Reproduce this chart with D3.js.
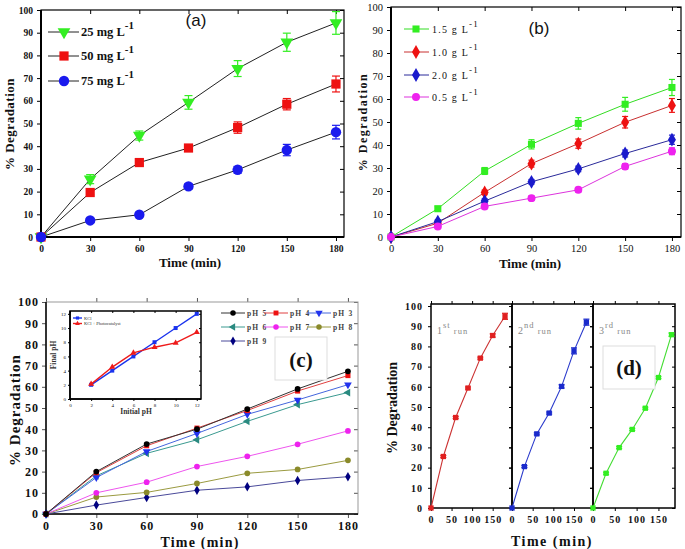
<!DOCTYPE html>
<html>
<head>
<meta charset="utf-8"/>
<title>Degradation panels</title>
<script src="https://cdn.jsdelivr.net/npm/d3@7"></script>
<style>
  body {margin:0; background:#fff;}
  svg {display:block;}
</style>
</head>
<body>
<svg id="fig" width="685" height="549"></svg>
<script>
// ---- data ----
const times = [0, 30, 60, 90, 120, 150, 180];
const xTicks = [0, 30, 60, 90, 120, 150, 180];
const yTicks = [0, 10, 20, 30, 40, 50, 60, 70, 80, 90, 100];

// (a) initial concentration
const aNames = ["25 mg L", "50 mg L", "75 mg L"];
const a25 = [0, 25.5, 44.7, 59.3, 74.2, 85.8, 94.3];
const a50 = [0, 19.6, 32.8, 39.2, 48.2, 58.5, 67.4];
const a75 = [0, 7.3, 9.8, 22.3, 29.6, 38.3, 46.2];
const a25err = [0, 2, 2, 3, 3.5, 4, 5];
const a50err = [0, 1, 1, 1.2, 2.5, 2.5, 3.5];
const a75err = [0, 1, 1, 1.2, 1.5, 2.5, 3];

// (b) catalyst dose
const bNames = ["1.5 g L", "1.0 g L", "2.0 g L", "0.5 g L"];
const b15 = [0, 12.3, 28.7, 40.3, 49.4, 57.7, 65];
const b10 = [0, 6, 19.4, 31.9, 40.6, 49.9, 57.2];
const b20 = [0, 6.7, 15.6, 24, 29.6, 36.3, 42.3];
const b05 = [0, 4.6, 13.3, 16.9, 20.5, 30.7, 37.3];
const b15err = [0, 1, 1.5, 2, 2.5, 3, 3.5];
const b10err = [0, 0.8, 1, 1.5, 2, 2.5, 3];
const b20err = [0, 0.8, 1, 1, 1.2, 1.5, 2];
const b05err = [0, 0.8, 1, 1, 1, 1.2, 1.5];

// (c) initial pH
const cNames = ["pH 5", "pH 4", "pH 3", "pH 6", "pH 7", "pH 8", "pH 9"];
const cPH5 = [0, 20, 33, 40, 49.5, 59, 67.3];
const cPH4 = [0, 19.5, 32.2, 40.5, 48.8, 58, 65.3];
const cPH3 = [0, 17.2, 29.5, 38, 47, 53.8, 61];
const cPH6 = [0, 18, 28.6, 35, 43.7, 51.6, 57.3];
const cPH7 = [0, 10, 15, 22.4, 27.2, 32.9, 39.2];
const cPH8 = [0, 8, 10.2, 14.4, 19.2, 21, 25.3];
const cPH9 = [0, 4.2, 7.8, 11.2, 12.8, 15.8, 17.6];

// (c) inset: final pH vs initial pH
const insetNames = ["KCl", "KCl + Photocatalyst"];
const initialPH = [2, 4, 6, 8, 10, 12];
const finalKCl = [2, 4, 6, 8, 10, 12];
const finalKClCat = [2.1, 4.5, 6.5, 7.3, 7.9, 9.4];
const insetTicks = [0, 2, 4, 6, 8, 10, 12];

// (d) reuse runs
const runNames = ["st", "nd", "rd"];
const runNums = ["1", "2", "3"];
const run1 = [0, 25.5, 44.8, 59.4, 74.2, 85.4, 94.9];
const run2 = [0, 20.5, 36.7, 47, 60.2, 77.8, 92];
const run3 = [0, 17.2, 29.9, 38.9, 49.4, 64.6, 85.8];
const run1err = [0, 0.5, 0.5, 0.5, 0.5, 0.8, 1.5];
const run2err = [0, 0.5, 0.5, 0.5, 0.8, 1.5, 1.5];
const run3err = [0, 0.5, 0.5, 0.5, 0.5, 0.5, 0.8];
const dTicks = [0, 50, 100, 150];

const svg = d3.select("#fig");
const SERIF = "'Liberation Serif', 'DejaVu Serif', serif";
const SANS = "'Liberation Sans', Arial, sans-serif";

function sym(shape, size) {
  const t = {tri: d3.symbolTriangle, square: d3.symbolSquare, circle: d3.symbolCircle,
             diamond: d3.symbolDiamond, star: d3.symbolStar}[shape.replace(/-.*/, "")];
  return d3.symbol().type(t).size(size)();
}
function rot(shape) {
  if (shape === "tri-down") return 180;
  if (shape === "tri-left") return -90;
  return 0;
}

// frame + ticks for one panel
function axes(g, x, y, o) {
  const [x0, x1] = x.range(), y0 = y.range()[0], top = o.top;
  const fmt = o.xf || (d => d);
  const gb = g.append("g").attr("transform", `translate(0,${y0})`)
    .call(d3.axisBottom(x).tickValues(o.xt).tickSize(o.tick).tickPadding(o.pad).tickFormat(fmt));
  const gl = g.append("g").attr("transform", `translate(${x0},0)`)
    .call(d3.axisLeft(y).tickValues(o.yt).tickSize(o.tick).tickPadding(o.pad));
  const gt = g.append("g").attr("transform", `translate(0,${top})`)
    .call(d3.axisTop(x).tickValues(o.xt).tickSize(o.topOut ? o.tick : -o.tick).tickFormat(""));
  const gr = g.append("g").attr("transform", `translate(${x1},0)`)
    .call(d3.axisRight(y).tickValues(o.yt).tickSize(-o.tick).tickFormat(""));
  [gb, gl, gt, gr].forEach(a => {
    a.select(".domain").remove();
    a.selectAll("line").attr("stroke", o.color || "#000").attr("stroke-width", 1);
    a.selectAll("text").attr("font-family", o.font || SERIF).attr("font-size", o.fs)
      .attr("font-weight", o.fw || "normal").attr("fill", "#111")
      .attr("letter-spacing", o.ls || 0);
  });
  if (o.noLeftLabels) gl.selectAll("text").remove();
  g.append("rect").attr("x", x0).attr("y", top).attr("width", x1 - x0).attr("height", y0 - top)
    .attr("fill", "none").attr("stroke", o.frameColor || "#000").attr("stroke-width", o.fw2 || 1.2);
  if (o.thick) {
    g.append("line").attr("x1", x0).attr("x2", x1).attr("y1", y0).attr("y2", y0)
      .attr("stroke", "#000").attr("stroke-width", o.thick);
    g.append("line").attr("x1", x0).attr("x2", x0).attr("y1", top).attr("y2", y0)
      .attr("stroke", "#000").attr("stroke-width", o.thick);
  }
}

function series(g, x, y, vals, o) {
  const pts = times.map((t, i) => [t, vals[i]]);
  g.append("path").attr("d", d3.line().x(d => x(d[0])).y(d => y(d[1]))(pts))
    .attr("fill", "none").attr("stroke", o.line).attr("stroke-width", o.lw || 1);
  if (o.err) {
    pts.forEach((p, i) => {
      const e = o.err[i];
      if (!e) return;
      const cx = x(p[0]);
      g.append("line").attr("x1", cx).attr("x2", cx).attr("y1", y(p[1] - e)).attr("y2", y(p[1] + e))
        .attr("stroke", o.color).attr("stroke-width", 1.2);
      [p[1] - e, p[1] + e].forEach(v => g.append("line").attr("x1", cx - o.cap).attr("x2", cx + o.cap)
        .attr("y1", y(v)).attr("y2", y(v)).attr("stroke", o.color).attr("stroke-width", 1.2));
    });
  }
  g.selectAll(null).data(pts).join("path")
    .attr("d", sym(o.shape, o.size))
    .attr("transform", d => `translate(${x(d[0])},${y(d[1])}) rotate(${rot(o.shape)})`)
    .attr("fill", o.color);
}

function text(g, x, y, str, o) {
  const t = g.append("text").attr("x", x).attr("y", y).text(str)
    .attr("font-family", o.font || SERIF).attr("font-size", o.fs).attr("font-weight", o.fw || "normal")
    .attr("fill", o.fill || "#111").attr("text-anchor", o.anchor || "start")
    .attr("letter-spacing", o.ls || 0);
  if (o.rot) t.attr("transform", `rotate(-90,${x},${y})`);
  return t;
}
function sup(t, s, fs, dy) {
  t.append("tspan").attr("dy", -dy).attr("font-size", fs).text(s);
}

// ===== panel (a) =====
{
  const g = svg.append("g");
  const x = d3.scaleLinear().domain([0, 184.9]).range([41, 344]);
  const y = d3.scaleLinear().domain([0, 100]).range([237, 10]);
  axes(g, x, y, {xt: xTicks, yt: yTicks, tick: 4, pad: 4, fs: 9.5, fw: "bold", top: 10, thick: 2});
  const defs = [
    {v: a25, e: a25err, color: "#33ee22", shape: "tri-down", size: 70},
    {v: a50, e: a50err, color: "#ee1111", shape: "square", size: 85},
    {v: a75, e: a75err, color: "#1a1aee", shape: "circle", size: 85}
  ];
  defs.forEach(d => series(g, x, y, d.v, {line: "#222", color: d.color, shape: d.shape, size: d.size, err: d.e, cap: 4}));
  const rowsY = [32, 56, 81];
  defs.forEach((d, i) => {
    g.append("line").attr("x1", 48).attr("x2", 79).attr("y1", rowsY[i]).attr("y2", rowsY[i]).attr("stroke", "#222");
    g.append("path").attr("d", sym(d.shape, d.size))
      .attr("transform", `translate(64,${rowsY[i]}) rotate(${rot(d.shape)})`).attr("fill", d.color);
    const t = text(g, 81, rowsY[i] + 4, aNames[i], {fs: 12.5, fw: "bold"});
    sup(t, "-1", 11, 7);
  });
  text(g, 196, 26, "(a)", {fs: 17, font: SANS, anchor: "middle"});
  text(g, 14, 124, "% Degradation", {fs: 13, fw: "bold", anchor: "middle", rot: true, ls: 0.5});
  text(g, 190, 267, "Time (min)", {fs: 13, fw: "bold", anchor: "middle"});
}

// ===== panel (b) =====
{
  const g = svg.append("g");
  const x = d3.scaleLinear().domain([0, 185.8]).range([391, 681]);
  const y = d3.scaleLinear().domain([0, 100]).range([237, 7]);
  axes(g, x, y, {xt: xTicks, yt: yTicks, tick: 4, pad: 4, fs: 10.5, top: 7, thick: 2});
  const defs = [
    {v: b15, e: b15err, color: "#33ee22", line: "#33dd22", shape: "square", size: 50},
    {v: b10, e: b10err, color: "#ee1111", line: "#c83030", shape: "diamond", size: 55},
    {v: b20, e: b20err, color: "#1a1acc", line: "#2a2a9a", shape: "diamond", size: 55},
    {v: b05, e: b05err, color: "#ee22ee", line: "#dd33dd", shape: "circle", size: 50}
  ];
  defs.forEach(d => series(g, x, y, d.v, {line: d.line, color: d.color, shape: d.shape, size: d.size, err: d.e, cap: 3}));
  const rowsY = [29, 52, 75, 97];
  defs.forEach((d, i) => {
    g.append("line").attr("x1", 404).attr("x2", 429).attr("y1", rowsY[i]).attr("y2", rowsY[i]).attr("stroke", d.line);
    g.append("path").attr("d", sym(d.shape, d.size)).attr("transform", `translate(416,${rowsY[i]})`).attr("fill", d.color);
    const t = text(g, 432, rowsY[i] + 4, bNames[i], {fs: 10, ls: 1.2});
    sup(t, "-1", 9, 6);
  });
  text(g, 539, 34, "(b)", {fs: 17, font: SANS, anchor: "middle"});
  text(g, 367, 122, "% Degradation", {fs: 12, fw: "bold", anchor: "middle", rot: true, ls: 1.5});
  text(g, 530, 268, "Time (min)", {fs: 13, fw: "bold", anchor: "middle"});
}

// ===== panel (c) =====
{
  const g = svg.append("g");
  const x = d3.scaleLinear().domain([0, 186]).range([46, 358]);
  const y = d3.scaleLinear().domain([0, 100]).range([514, 302]);
  axes(g, x, y, {xt: xTicks, yt: yTicks, tick: 4, pad: 3, fs: 12, fw: "bold", ls: 1, top: 302,
                 topOut: true, color: "#555", frameColor: "#999", fw2: 1, thick: 1.5});
  const defs = [
    {v: cPH5, color: "#000000", line: "#333", shape: "circle"},
    {v: cPH4, color: "#ee1111", line: "#e04040", shape: "square"},
    {v: cPH3, color: "#2233ee", line: "#4466dd", shape: "tri-down"},
    {v: cPH6, color: "#2a8a80", line: "#3a9a90", shape: "tri-left"},
    {v: cPH7, color: "#ee22ee", line: "#ee55ee", shape: "circle"},
    {v: cPH8, color: "#8a8a2a", line: "#9a9a40", shape: "circle"},
    {v: cPH9, color: "#000080", line: "#4a4a9a", shape: "diamond"}
  ];
  defs.slice().reverse().forEach(d => series(g, x, y, d.v, {line: d.line, color: d.color, shape: d.shape, size: 26}));
  const cols = [221, 264, 307], rowsY = [313, 327, 341];
  defs.forEach((d, i) => {
    const cx = cols[i % 3], cy = rowsY[Math.floor(i / 3)];
    g.append("line").attr("x1", cx).attr("x2", cx + 24).attr("y1", cy).attr("y2", cy).attr("stroke", d.line);
    g.append("path").attr("d", sym(d.shape, 24)).attr("transform", `translate(${cx + 12},${cy}) rotate(${rot(d.shape)})`).attr("fill", d.color);
    text(g, cx + 26, cy + 3, cNames[i], {fs: 7.5, fw: "bold", ls: 1.2, fill: "#444"});
  });
  g.append("rect").attr("x", 275).attr("y", 337).attr("width", 52).attr("height", 43)
    .attr("fill", "#fff").attr("stroke", "#ddd");
  text(g, 301, 367, "(c)", {fs: 21, fw: "bold", anchor: "middle"});
  text(g, 20, 410, "% Degradation", {fs: 15, fw: "bold", anchor: "middle", rot: true, ls: 1});
  text(g, 200, 547, "Time (min)", {fs: 14, fw: "bold", anchor: "middle", ls: 1.2});

  // inset
  const ix = d3.scaleLinear().domain([0, 12.4]).range([70, 201]);
  const iy = d3.scaleLinear().domain([0, 12.4]).range([399, 311]);
  g.append("rect").attr("x", 70).attr("y", 311).attr("width", 131).attr("height", 88).attr("fill", "#fff");
  axes(g, ix, iy, {xt: insetTicks, yt: insetTicks, tick: 2, pad: 2, fs: 5, top: 311, fw2: 1.5, thick: 1.5});
  const ins = [
    {v: finalKCl, color: "#1a33ee", shape: "square"},
    {v: finalKClCat, color: "#ee1a1a", shape: "tri"}
  ];
  ins.forEach(d => {
    const pts = initialPH.map((p, i) => [p, d.v[i]]);
    g.append("path").attr("d", d3.line().x(p => ix(p[0])).y(p => iy(p[1]))(pts))
      .attr("fill", "none").attr("stroke", d.color).attr("stroke-width", 1.4);
    g.selectAll(null).data(pts).join("path").attr("d", sym(d.shape, 16))
      .attr("transform", p => `translate(${ix(p[0])},${iy(p[1])})`).attr("fill", d.color);
  });
  ins.forEach((d, i) => {
    const cy = 318 + i * 5.5;
    g.append("line").attr("x1", 73).attr("x2", 82).attr("y1", cy).attr("y2", cy).attr("stroke", d.color).attr("stroke-width", 1.4);
    g.append("path").attr("d", sym(d.shape, 10)).attr("transform", `translate(77.5,${cy})`).attr("fill", d.color);
    text(g, 84, cy + 1.5, insetNames[i], {fs: 4.5, fill: "#333"});
  });
  text(g, 136, 414, "Initial pH", {fs: 7.5, fw: "bold", anchor: "middle", fill: "#333"});
  text(g, 56, 355, "Final pH", {fs: 7.5, fw: "bold", anchor: "middle", rot: true, fill: "#333"});
}

// ===== panel (d) =====
{
  const g = svg.append("g");
  const y = d3.scaleLinear().domain([0, 101]).range([508, 304]);
  const starts = [431, 512, 593], ends = [512, 593, 675], xmax = [197, 196, 188];
  const runs = [
    {v: run1, e: run1err, color: "#e02020", line: "#cc3333"},
    {v: run2, e: run2err, color: "#1a2acc", line: "#2a3acc"},
    {v: run3, e: run3err, color: "#33ee22", line: "#44dd33"}
  ];
  runs.forEach((r, i) => {
    const x = d3.scaleLinear().domain([0, xmax[i]]).range([starts[i], ends[i]]);
    axes(g, x, y, {xt: dTicks, yt: yTicks, tick: 3, pad: 5, fs: 10, fw: "bold", ls: 1, top: 304,
                   noLeftLabels: i > 0, fw2: 1.5, topOut: true});
    series(g, x, y, r.v, {line: r.line, color: r.color, shape: "square", size: 28, err: r.e, cap: 3, lw: 1.1});
    const t = text(g, starts[i] + 6, 334, runNums[i], {fs: 10, fill: "#888", ls: 1});
    sup(t, runNames[i], 8.5, 6);
    t.append("tspan").attr("dy", 6).text(" run").attr("font-size", 8.5);
  });
  g.append("rect").attr("x", 603).attr("y", 346).attr("width", 52).attr("height", 43)
    .attr("fill", "#fff").attr("stroke", "#ddd");
  text(g, 629, 375, "(d)", {fs: 21, fw: "bold", anchor: "middle"});
  text(g, 397, 408, "% Degradation", {fs: 14, fw: "bold", anchor: "middle", rot: true});
  text(g, 552, 546, "Time (min)", {fs: 14, fw: "bold", anchor: "middle", ls: 1.5});
}
</script>
</body>
</html>
